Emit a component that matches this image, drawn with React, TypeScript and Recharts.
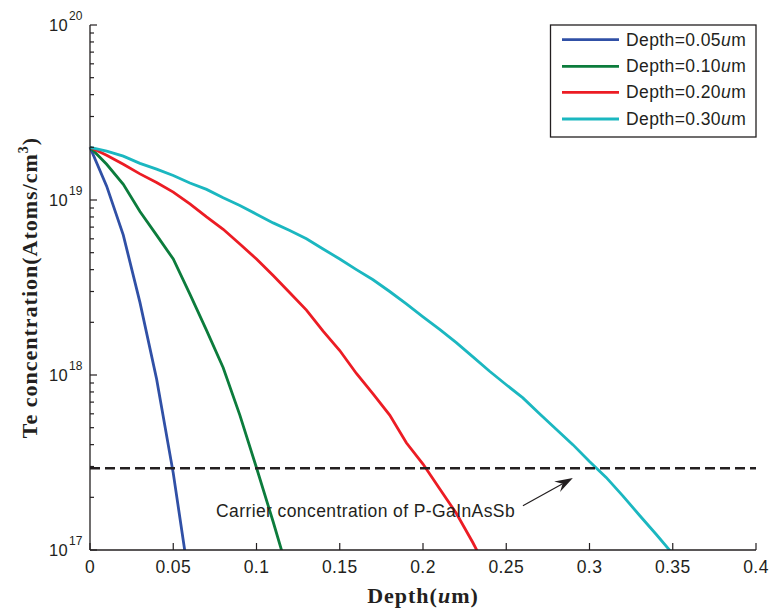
import React from "react";
import { LineChart, Line, XAxis, YAxis, ReferenceLine, ReferenceDot } from "recharts";

// depth (um) sample points
const depth = [
  0, 0.01, 0.02, 0.03, 0.04, 0.05, 0.06, 0.07, 0.08, 0.09,
  0.1, 0.11, 0.12, 0.13, 0.14, 0.15, 0.16, 0.17, 0.18, 0.19,
  0.2, 0.21, 0.22, 0.23, 0.24, 0.25, 0.26, 0.27, 0.28, 0.29,
  0.3, 0.31, 0.32, 0.33, 0.34, 0.35, 0.36,
];

// Te concentration (atoms/cm3) for each diffusion depth
const conc005 = [2.0e19, 1.2e19, 6.3e18, 2.6e18, 9.5e17, 2.75e17, 6.3e16];
const conc010 = [
  2.0e19, 1.6e19, 1.23e19, 8.6e18, 6.3e18, 4.6e18, 2.9e18, 1.8e18, 1.1e18, 5.9e17,
  2.95e17, 1.45e17, 6.9e16,
];
const conc020 = [
  2.0e19, 1.8e19, 1.6e19, 1.41e19, 1.26e19, 1.11e19, 9.5e18, 8.0e18, 6.8e18, 5.6e18,
  4.6e18, 3.7e18, 2.95e18, 2.35e18, 1.78e18, 1.38e18, 1.02e18, 7.8e17, 5.9e17, 4.1e17,
  3.1e17, 2.24e17, 1.62e17, 1.1e17, 7.2e16,
];
const conc030 = [
  2.0e19, 1.9e19, 1.78e19, 1.62e19, 1.5e19, 1.38e19, 1.25e19, 1.15e19, 1.03e19, 9.3e18,
  8.3e18, 7.4e18, 6.7e18, 6.0e18, 5.25e18, 4.6e18, 4.0e18, 3.5e18, 3.0e18, 2.55e18,
  2.15e18, 1.82e18, 1.53e18, 1.27e18, 1.05e18, 8.8e17, 7.4e17, 6.0e17, 4.9e17, 4.0e17,
  3.2e17, 2.6e17, 2.04e17, 1.58e17, 1.23e17, 9.5e16, 7.6e16,
];

const seriesNames = ["0.05", "0.10", "0.20", "0.30"];
const seriesKeys = ["c005", "c010", "c020", "c030"];
const seriesColors = ["#3050a6", "#0c7c3c", "#ec1c24", "#1bb7c0"];

const carrierLevel = 2.93e17;
const annotationText = "Carrier concentration of P-GaInAsSb";
const annotationPos = { x: 0.0757, y: 1.68e17 };
const arrowFrom = { x: 0.26, y: 1.79e17 };
const arrowTo = { x: 0.29, y: 2.58e17 };

const xTicks = [0, 0.05, 0.1, 0.15, 0.2, 0.25, 0.3, 0.35, 0.4];
const decades = [1e17, 1e18, 1e19, 1e20];
const minorSteps = [1, 2, 3, 4, 5, 6, 7, 8, 9];
const yTicks = decades.flatMap((d) => (d === 1e20 ? [d] : minorSteps.map((m) => m * d)));

const data = depth.map((d, i) => ({
  depth: d,
  c005: conc005[i] ?? null,
  c010: conc010[i] ?? null,
  c020: conc020[i] ?? null,
  c030: conc030[i] ?? null,
}));

const INK = "#231f20";
const SANS = "'Liberation Sans', Arial, sans-serif";
const SERIF = "'Liberation Serif', 'Times New Roman', serif";
const FS = 17.5;
const LS = 0.4;

const isMajor = (v: number) => {
  const e = Math.round(Math.log10(v));
  return Math.abs(v - Math.pow(10, e)) < v * 1e-6;
};

function BottomTick({ x, y, payload }: any) {
  return (
    <g>
      <line x1={x} x2={x} y1={y} y2={y - 7} stroke={INK} strokeWidth={1.2} />
      <text x={x} y={y + 23} textAnchor="middle" fontSize={FS} letterSpacing={LS} fill={INK} fontFamily={SANS}>
        {String(payload.value)}
      </text>
    </g>
  );
}

function TopTick({ x, y }: any) {
  return <line x1={x} x2={x} y1={y} y2={y + 7} stroke={INK} strokeWidth={1.2} />;
}

function LeftTick({ x, y, payload }: any) {
  const v = payload.value;
  const major = isMajor(v);
  const exp = Math.round(Math.log10(v));
  return (
    <g>
      <line x1={x} x2={x + (major ? 7 : 4)} y1={y} y2={y} stroke={INK} strokeWidth={1.2} />
      {major && (
        <text x={x - 22} y={y + 6} textAnchor="end" fontSize={16.5} letterSpacing={0.3} fill={INK} fontFamily={SANS}>
          10
        </text>
      )}
      {major && (
        <text x={x - 21} y={y - 5} fontSize={12} fill={INK} fontFamily={SANS}>
          {exp}
        </text>
      )}
    </g>
  );
}

function RightTick({ x, y, payload }: any) {
  const major = isMajor(payload.value);
  return <line x1={x} x2={x - (major ? 7 : 4)} y1={y} y2={y} stroke={INK} strokeWidth={1.2} />;
}

function XLabel({ viewBox }: any) {
  const cx = viewBox.x + viewBox.width / 2;
  return (
    <text x={cx} y={viewBox.y + 53} textAnchor="middle" fontSize={22} fontWeight="bold" letterSpacing={1} fill={INK} fontFamily={SERIF}>
      Depth(<tspan fontStyle="italic">u</tspan>m)
    </text>
  );
}

function YLabel({ viewBox }: any) {
  const cy = viewBox.y + viewBox.height / 2;
  const cx = 37;
  return (
    <text
      transform={`translate(${cx},${cy}) rotate(-90)`}
      textAnchor="middle"
      fontSize={22}
      fontWeight="bold"
      letterSpacing={1}
      fill={INK}
      fontFamily={SERIF}
    >
      Te concentration(Atoms/cm
      <tspan fontSize={14} dy={-9}>3</tspan>
      <tspan dy={9}>)</tspan>
    </text>
  );
}

function Arrow(props: any) {
  const { x1, y1, x2, y2 } = props;
  const dx = x2 - x1;
  const dy = y2 - y1;
  const len = Math.sqrt(dx * dx + dy * dy);
  const ux = dx / len;
  const uy = dy / len;
  const headLen = 18;
  const halfW = 6;
  const bx = x2 - ux * headLen;
  const by = y2 - uy * headLen;
  const nx = x2 - ux * headLen * 0.65;
  const ny = y2 - uy * headLen * 0.65;
  const pts = [
    [x2, y2],
    [bx - uy * halfW, by + ux * halfW],
    [nx, ny],
    [bx + uy * halfW, by - ux * halfW],
  ]
    .map((p) => p.join(","))
    .join(" ");
  return (
    <g>
      <line x1={x1} y1={y1} x2={nx} y2={ny} stroke={INK} strokeWidth={1.2} />
      <polygon points={pts} fill={INK} />
    </g>
  );
}

function Annotation({ cx, cy }: any) {
  return (
    <text x={cx} y={cy + 6} fontSize={FS} letterSpacing={LS} fill={INK} fontFamily={SANS}>
      {annotationText}
    </text>
  );
}

function LegendBox() {
  const rowY = [15.7, 42.3, 68.3, 95];
  return (
    <svg
      width={207}
      height={114}
      style={{ position: "absolute", left: 550, top: 24, overflow: "visible" }}
    >
      <rect x={0.5} y={1} width={205.5} height={112} fill="#fff" stroke={INK} strokeWidth={1.3} />
      {seriesNames.map((n, i) => (
        <g key={n}>
          <line x1={12} x2={69} y1={rowY[i]} y2={rowY[i]} stroke={seriesColors[i]} strokeWidth={2.8} />
          <text x={76} y={rowY[i] + 6} fontSize={FS} letterSpacing={LS} fill={INK} fontFamily={SANS}>
            Depth={n}
            <tspan fontStyle="italic">u</tspan>m
          </text>
        </g>
      ))}
    </svg>
  );
}

export default function App() {
  return (
    <div style={{ position: "absolute", left: 0, top: 0, width: 776, height: 610, background: "#fff" }}>
      <LineChart width={776} height={610} data={data} margin={{ top: 25, right: 20, bottom: 0, left: 0 }}>
        <XAxis
          dataKey="depth"
          type="number"
          domain={[0, 0.4]}
          ticks={xTicks}
          interval={0}
          height={60}
          tickSize={0}
          tickMargin={0}
          tickLine={false}
          tick={<BottomTick />}
          axisLine={{ stroke: INK, strokeWidth: 1.3 }}
          label={<XLabel />}
        />
        <XAxis
          xAxisId="top"
          orientation="top"
          type="number"
          domain={[0, 0.4]}
          ticks={xTicks}
          interval={0}
          height={0}
          tickSize={0}
          tickMargin={0}
          tickLine={false}
          tick={<TopTick />}
          axisLine={{ stroke: INK, strokeWidth: 1.3 }}
        />
        <YAxis
          type="number"
          scale="log"
          domain={[1e17, 1e20]}
          allowDataOverflow
          ticks={yTicks}
          interval={0}
          width={90}
          tickSize={0}
          tickMargin={0}
          tickLine={false}
          tick={<LeftTick />}
          axisLine={{ stroke: INK, strokeWidth: 1.3 }}
          label={<YLabel />}
        />
        <YAxis
          yAxisId="right"
          orientation="right"
          type="number"
          scale="log"
          domain={[1e17, 1e20]}
          allowDataOverflow
          ticks={yTicks}
          interval={0}
          width={0}
          tickSize={0}
          tickMargin={0}
          tickLine={false}
          tick={<RightTick />}
          axisLine={{ stroke: INK, strokeWidth: 1.3 }}
        />
        {seriesKeys.map((k, i) => (
          <Line
            key={k}
            dataKey={k}
            type="linear"
            stroke={seriesColors[i]}
            strokeWidth={2.8}
            dot={false}
            activeDot={false}
            isAnimationActive={false}
          />
        ))}
        <ReferenceLine y={carrierLevel} stroke={INK} strokeWidth={2.5} strokeDasharray="10 5" />
        <ReferenceLine segment={[arrowFrom, arrowTo]} shape={<Arrow />} />
        <ReferenceDot x={annotationPos.x} y={annotationPos.y} r={0} shape={<Annotation />} />
      </LineChart>
      <LegendBox />
    </div>
  );
}
